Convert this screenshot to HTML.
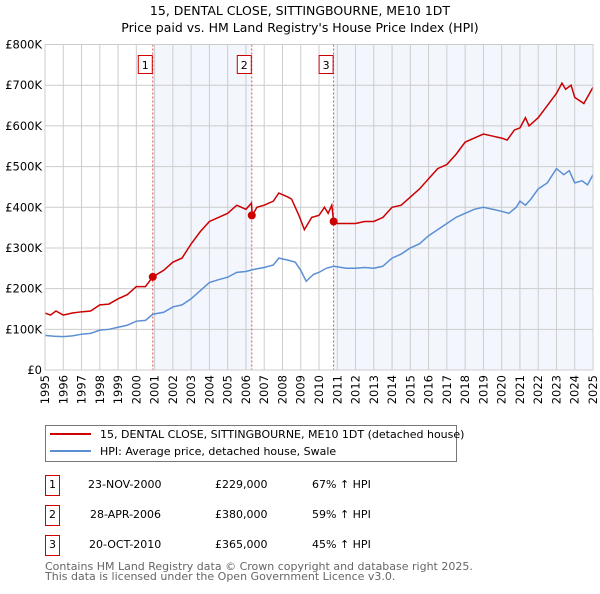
<!DOCTYPE html>
<html><head><meta charset="utf-8"><style>
body{margin:0;background:#fff;font-family:"DejaVu Sans","Liberation Sans",sans-serif;}
svg text{font-family:"DejaVu Sans","Liberation Sans",sans-serif;}
</style></head><body>
<svg id="c" width="600" height="590" xmlns="http://www.w3.org/2000/svg">
<text x="300" y="15" text-anchor="middle" font-size="12.5">15, DENTAL CLOSE, SITTINGBOURNE, ME10 1DT</text>
<text x="300" y="32" text-anchor="middle" font-size="12.5">Price paid vs. HM Land Registry's House Price Index (HPI)</text>
<g id="plot"></g>
<rect x="45.5" y="425.5" width="411" height="36" fill="#fff" stroke="#777"/>
<line x1="50" y1="434" x2="91" y2="434" stroke="#cc0000" stroke-width="2"/>
<text x="100" y="438" font-size="11">15, DENTAL CLOSE, SITTINGBOURNE, ME10 1DT (detached house)</text>
<line x1="50" y1="451" x2="91" y2="451" stroke="#5b8fd4" stroke-width="2"/>
<text x="100" y="455" font-size="11">HPI: Average price, detached house, Swale</text>
<g font-size="11">
<rect x="45.5" y="475.5" width="14" height="20" fill="#fff" stroke="#cc0000"/><text x="52.5" y="488" text-anchor="middle">1</text>
<text x="88" y="488">23-NOV-2000</text><text x="215" y="488">£229,000</text><text x="312" y="488">67% ↑ HPI</text>
<rect x="45.5" y="505.5" width="14" height="20" fill="#fff" stroke="#cc0000"/><text x="52.5" y="518" text-anchor="middle">2</text>
<text x="90" y="518">28-APR-2006</text><text x="215" y="518">£380,000</text><text x="312" y="518">59% ↑ HPI</text>
<rect x="45.5" y="535.5" width="14" height="20" fill="#fff" stroke="#cc0000"/><text x="52.5" y="548" text-anchor="middle">3</text>
<text x="89" y="548">20-OCT-2010</text><text x="215" y="548">£365,000</text><text x="312" y="548">45% ↑ HPI</text>
</g>
<text x="45" y="570" font-size="11" fill="#666">Contains HM Land Registry data © Crown copyright and database right 2025.</text>
<text x="45" y="580" font-size="11" fill="#666">This data is licensed under the Open Government Licence v3.0.</text>
</svg>
<script>
const yTicks=[0,100,200,300,400,500,600,700,800];
const yTickLabels=["£0","£100K","£200K","£300K","£400K","£500K","£600K","£700K","£800K"];
const xYears=[1995,1996,1997,1998,1999,2000,2001,2002,2003,2004,2005,2006,2007,2008,2009,2010,2011,2012,2013,2014,2015,2016,2017,2018,2019,2020,2021,2022,2023,2024,2025];
const hpiT=[1995,1995.5,1996,1996.5,1997,1997.5,1998,1998.5,1999,1999.5,2000,2000.5,2000.9,2001.5,2002,2002.5,2003,2003.5,2004,2004.5,2005,2005.5,2006,2006.5,2007,2007.5,2007.8,2008.3,2008.7,2009,2009.3,2009.7,2010,2010.4,2010.8,2011.5,2012,2012.5,2013,2013.5,2014,2014.5,2015,2015.5,2016,2016.5,2017,2017.5,2018,2018.5,2019,2019.5,2020,2020.4,2020.8,2021,2021.3,2021.6,2022,2022.5,2023,2023.4,2023.7,2024,2024.4,2024.7,2025];
const hpiV=[85,83,82,84,88,90,98,100,105,110,120,122,137,142,155,160,175,195,215,222,228,240,242,248,252,258,275,270,265,245,218,235,240,250,255,250,250,252,250,255,275,285,300,310,330,345,360,375,385,395,400,395,390,385,400,415,405,420,445,460,495,480,490,460,465,455,480];
const priceT=[1995,1995.3,1995.6,1996,1996.5,1997,1997.5,1998,1998.5,1999,1999.5,2000,2000.5,2000.9,2001.5,2002,2002.5,2003,2003.5,2004,2004.5,2005,2005.5,2006,2006.3,2006.35,2006.6,2007,2007.5,2007.8,2008.3,2008.5,2008.9,2009.2,2009.6,2010,2010.3,2010.5,2010.7,2010.8,2011,2011.5,2012,2012.5,2013,2013.5,2014,2014.5,2015,2015.5,2016,2016.5,2017,2017.5,2018,2018.5,2019,2019.5,2020,2020.3,2020.7,2021,2021.3,2021.5,2022,2022.5,2023,2023.3,2023.5,2023.8,2024,2024.5,2025];
const priceV=[140,135,145,135,140,143,145,160,162,175,185,205,205,229,245,265,275,310,340,365,375,385,405,395,410,380,400,405,415,435,425,420,380,345,375,380,400,385,405,365,360,360,360,365,365,375,400,405,425,445,470,495,505,530,560,570,580,575,570,565,590,595,620,600,620,650,680,705,690,700,670,655,695];
const saleT=[2000.9,2006.32,2010.8];
const saleV=[229,380,365];
const saleLabels=["1","2","3"];
const NS="http://www.w3.org/2000/svg";
const X0=45,X1=593,Y0=370,Y1=44.5;
const xs=t=>X0+(t-1995)/30*(X1-X0);
const ys=v=>Y0-v/800*(Y0-Y1);
const g=document.getElementById('plot');
function mk(tag,attrs,parent){const e=document.createElementNS(NS,tag);for(const k in attrs)e.setAttribute(k,attrs[k]);(parent||g).appendChild(e);return e;}
let e;
e=mk('rect',{x:xs(saleT[0]),y:Y1,width:xs(saleT[1])-xs(saleT[0]),height:Y0-Y1,fill:'#eef3fc',opacity:0.7});


e=mk('rect',{x:xs(saleT[2]),y:Y1,width:X1-xs(saleT[2]),height:Y0-Y1,fill:'#eef3fc',opacity:0.7});


yTicks.forEach((v,i)=>{
 e=mk('line',{x1:X0,x2:X1,y1:ys(v),y2:ys(v),stroke:'#ccc','stroke-width':1});
 
 
 e=mk('text',{x:X0-3,y:ys(v)+4,'text-anchor':'end','font-size':11.5});
 e.textContent=yTickLabels[i];
 
 
});
xYears.forEach(yr=>{
 e=mk('line',{x1:xs(yr),x2:xs(yr),y1:Y1,y2:Y0,stroke:'#ccc','stroke-width':1});
 
 
 e=mk('text',{x:0,y:0,'font-size':11.5,'text-anchor':'end',transform:`translate(${xs(yr)+4},${Y0+5}) rotate(-90)`});
 e.textContent=yr;
 
 
});
saleT.forEach((t,i)=>{
 e=mk('line',{x1:xs(t),x2:xs(t),y1:Y1,y2:Y0,stroke:'#e05050','stroke-width':1,'stroke-dasharray':'2,2'});
 
 
 e=mk('rect',{x:xs(t)-14.5,y:55.5,width:14,height:18,fill:'#fff',stroke:'#cc0000'});
 
 
 e=mk('text',{x:xs(t)-7.5,y:69,'text-anchor':'middle','font-size':11});
 e.textContent=saleLabels[i];
 
 
});
e=mk('polyline',{points:hpiT.map((t,i)=>xs(t)+','+ys(hpiV[i])).join(' '),fill:'none',stroke:'#5b8fd4','stroke-width':1.5});


e=mk('polyline',{points:priceT.map((t,i)=>xs(t)+','+ys(priceV[i])).join(' '),fill:'none',stroke:'#cc0000','stroke-width':1.5});


saleT.forEach((t,i)=>{
 e=mk('circle',{cx:xs(t),cy:ys(saleV[i]),r:4,fill:'#cc0000'});
 
 
});
e=mk('rect',{x:X0,y:Y1,width:X1-X0,height:Y0-Y1,fill:'none',stroke:'#ccc'});


</script>
</body></html>
